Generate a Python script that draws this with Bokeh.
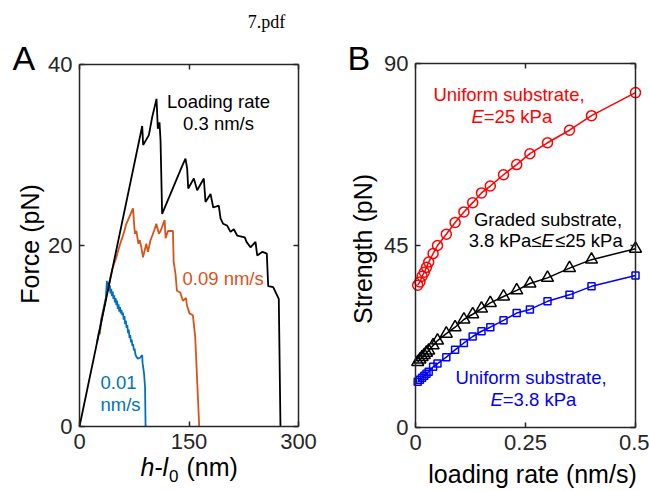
import math
from bokeh.plotting import figure
from bokeh.models import Range1d, LinearAxis, Label, FixedTicker
from bokeh.layouts import row
from bokeh.embed import file_html
from bokeh.resources import INLINE

# ---------------- Panel A data (force vs extension) ----------------
black_x = [0, 85.9, 87.2, 95.0, 99.6, 105.5, 107.3, 109.6, 111.0, 113.2, 140.7, 145.2, 147.5,
           148.9, 156.6, 161.2, 170.3, 172.6, 179.5, 183.2, 190.8, 193.2, 196.8, 202.3, 206.8,
           211.4, 216.0, 226.4, 228.8, 234.2, 241.1, 243.4, 250.7, 256.6, 258.5, 265.3, 273.0, 275.3]
black_y = [0, 33.2, 31.1, 32.2, 34.2, 36.2, 32.9, 33.6, 31.6, 23.5, 28.8, 29.6, 28.5,
           26.3, 27.4, 26.1, 27.4, 24.8, 25.7, 24.2, 24.4, 23.0, 22.4, 22.2, 21.5,
           21.8, 21.1, 20.9, 20.4, 19.8, 20.4, 18.9, 19.3, 19.1, 15.5, 15.4, 14.1, 0]

orange_x = [28.0, 29.5, 35.0, 40.0, 45.0, 50.5, 55.0, 60.0, 64.2, 73.3, 75.8, 78.0, 80.6, 82.5,
            84.7, 87.0, 91.5, 93.8, 97.0, 102.9, 105.2, 108.8, 111.0, 116.6, 118.0, 121.1,
            128.0, 129.0, 131.6, 133.4, 138.0, 141.6, 146.0, 147.1, 150.7, 155.3, 158.5, 164.0]
orange_y = [10.2, 11.8, 13.8, 15.6, 17.4, 18.7, 20.0, 21.2, 22.4, 24.1, 21.3, 21.6, 20.2, 20.6,
            19.8, 18.7, 20.2, 19.3, 20.5, 21.8, 22.4, 21.3, 21.6, 22.8, 20.8, 21.6,
            21.6, 18.2, 16.8, 15.0, 14.8, 13.9, 14.2, 13.4, 12.5, 12.3, 9.9, 0]

blue_x = [24.0, 26.0, 28.0, 30.0, 32.0, 34.0, 36.0, 37.5, 38.5, 39.5, 40.5, 41.5, 42.5, 43.5,
          44.5, 45.5, 46.5, 47.5, 48.5, 49.5, 50.5, 51.5, 52.5, 53.5, 54.5, 55.5, 56.5, 57.5,
          58.5, 59.5, 60.5, 61.5, 62.5, 63.5, 64.5, 65.5, 66.5, 67.5, 68.5, 69.5, 70.5, 71.5,
          72.5, 73.5, 74.5, 75.5, 76.5, 78.0, 80.0, 83.0, 85.9, 86.4, 87.2, 88.5, 89.8, 90.5]
blue_y = [9.3, 10.2, 10.9, 11.7, 12.5, 13.3, 14.1, 16.1, 15.3, 15.9, 15.0, 15.6, 14.7, 15.2,
          14.4, 14.9, 14.1, 14.5, 13.7, 14.2, 13.4, 13.9, 13.0, 13.5, 12.7, 13.2, 12.5, 12.9,
          12.3, 12.6, 11.8, 12.2, 11.3, 11.7, 10.9, 11.2, 10.3, 10.7, 9.8, 10.1, 9.3, 9.6,
          8.9, 9.1, 8.4, 8.6, 8.0, 7.7, 7.5, 7.6, 7.9, 7.0, 6.6, 5.8, 4.3, 0]

a_xticks = [0, 150, 300]
a_yticks = [0, 20, 40]

# ---------------- Panel B data (strength vs loading rate) ----------------
rate = [0.005, 0.01, 0.015, 0.02, 0.025, 0.03, 0.04, 0.05, 0.07, 0.09, 0.11, 0.13, 0.15,
        0.17, 0.2, 0.23, 0.26, 0.3, 0.35, 0.4, 0.5]
uniform_25 = [35.2, 36.0, 37.4, 38.4, 39.6, 40.9, 43.0, 45.0, 47.8, 50.7, 53.3, 55.6, 58.0,
              59.7, 62.5, 65.0, 67.7, 70.4, 73.5, 77.1, 82.8]
graded = [16.2, 16.8, 17.4, 17.9, 18.5, 19.0, 20.3, 21.5, 23.2, 24.8, 26.7, 28.0, 29.4,
          30.8, 32.4, 33.9, 35.6, 37.0, 39.4, 41.5, 44.2]
uniform_38 = [11.3, 11.8, 12.3, 12.8, 13.3, 13.8, 15.0, 15.8, 17.4, 19.2, 20.9, 22.5, 23.8,
              24.8, 26.5, 28.3, 29.2, 31.2, 32.8, 34.9, 37.6]

b_xticks = [0, 0.25, 0.5]
b_xlabels = ["0", "0.25", "0.5"]
b_yticks = [0, 45, 90]

AXC = "#262626"
FONT = "Liberation Sans"
H = 491


def style_axis(ax, ticks, show_labels=True):
    ax.ticker = FixedTicker(ticks=ticks)
    ax.axis_line_color = AXC
    ax.axis_line_width = 1.5
    ax.major_tick_line_color = AXC
    ax.major_tick_line_width = 1.5
    ax.major_tick_in = 5
    ax.major_tick_out = 0
    ax.minor_tick_line_color = None
    ax.major_label_text_font = FONT
    if show_labels:
        ax.major_label_standoff = 7
        ax.major_label_text_font_size = "22px"
        ax.major_label_text_color = AXC
    else:
        ax.major_label_standoff = 0
        ax.major_label_text_font_size = "1px"
        ax.major_label_text_color = None


def make_fig(width, xlim, ylim, box, xticks, yticks):
    # box = (left px, right px, top px, bottom px) of the axes box inside this canvas
    left, right, top, bottom = box
    kx = (xlim[1] - xlim[0]) / (right - left)
    ky = (ylim[1] - ylim[0]) / (bottom - top)
    xr = Range1d(xlim[0] - left * kx, xlim[1] + (width - right) * kx)
    yr = Range1d(ylim[0] - (H - bottom) * ky, ylim[1] + top * ky)
    p = figure(width=width, height=H, x_range=xr, y_range=yr,
               output_backend="svg", toolbar_location=None, title=None,
               x_axis_location=None, y_axis_location=None,
               min_border=0)
    p.grid.visible = False
    p.outline_line_color = None
    p.background_fill_color = "white"
    p.border_fill_color = "white"
    for side, loc, ticks, bounds, show in (("below", ylim[0], xticks, xlim, True),
                                           ("above", ylim[1], xticks, xlim, False),
                                           ("left", xlim[0], yticks, ylim, True),
                                           ("right", xlim[1], yticks, ylim, False)):
        ax = LinearAxis(fixed_location=loc, bounds=bounds)
        style_axis(ax, ticks, show)
        p.add_layout(ax, side)
    return p


def lab(p, x, y, text, size, color="black", align="left", style="normal",
        angle=0.0, font=FONT):
    p.add_layout(Label(x=x, y=y, text=text, text_font=font, text_font_size=f"{size}px",
                       text_color=color, text_align=align, text_baseline="middle",
                       text_font_style=style, angle=angle))


# ---------------- Panel A ----------------
pA = make_fig(330, (0, 300), (0, 40), (79, 298, 64, 426), a_xticks, a_yticks)
pA.line(orange_x, orange_y, line_color="#D95319", line_width=1.8)
pA.line(blue_x, blue_y, line_color="#0072BD", line_width=1.8)
pA.line(black_x, black_y, line_color="black", line_width=1.8)

lab(pA, 190.4, 35.86, "Loading rate", 18.5, align="center")
lab(pA, 190.4, 33.51, "0.3 nm/s", 18.5, align="center")
lab(pA, 141.1, 16.30, "0.09 nm/s", 18.5, color="#D95319")
lab(pA, 28.8, 4.89, "0.01", 18.5, color="#0072BD")
lab(pA, 28.8, 2.38, "nm/s", 18.5, color="#0072BD")

lab(pA, -91.8, 40.69, "A", 34)
lab(pA, 256.2, 44.69, "7.pdf", 18, align="center", font="Liberation Serif")
lab(pA, -67.8, 20.17, "Force (pN)", 25, align="center", angle=math.pi / 2)
# x label: h-l0 (nm)
lab(pA, 83.6, -4.48, "h", 25, style="italic")
lab(pA, 102.7, -4.48, "-", 25)
lab(pA, 113.7, -4.48, "l", 25, style="italic")
lab(pA, 122.6, -5.51, "0", 17)
lab(pA, 146.6, -4.48, "(nm)", 25)

# ---------------- Panel B ----------------
pB = make_fig(319, (0, 0.5), (0, 90), (85, 305, 63, 427), b_xticks, b_yticks)
pB.below[0].major_label_overrides = {t: s for t, s in zip(b_xticks, b_xlabels)}

RED, BLUE = "#FF0000", "#0000FF"
pB.line(rate, uniform_25, line_color=RED, line_width=1.5)
pB.scatter(rate, uniform_25, marker="circle", size=10, fill_color=None, line_color=RED, line_width=1.5)
pB.line(rate, graded, line_color="black", line_width=1.5)
pB.scatter(rate, graded, marker="triangle", size=12, fill_color=None, line_color="black", line_width=1.5)
pB.line(rate, uniform_38, line_color=BLUE, line_width=1.5)
pB.scatter(rate, uniform_38, marker="square", size=7, fill_color=None, line_color=BLUE, line_width=1.5)

lab(pB, 0.2125, 82.35, "Uniform substrate,", 18.5, color=RED, align="center")
lab(pB, 0.1273, 76.86, "E", 18.5, color=RED, style="italic")
lab(pB, 0.1552, 76.86, "=25 kPa", 18.5, color=RED)

lab(pB, 0.3011, 51.49, "Graded substrate,", 18.5, align="center")
lab(pB, 0.2864, 46.20, "3.8 kPa\u2264", 18.5, align="right")
lab(pB, 0.2864, 46.20, "E", 18.5, style="italic")
lab(pB, 0.3170, 46.20, "\u226425 kPa", 18.5)

lab(pB, 0.2625, 12.33, "Uniform substrate,", 18.5, color=BLUE, align="center")
lab(pB, 0.1705, 6.81, "E", 18.5, color=BLUE, style="italic")
lab(pB, 0.1984, 6.81, "=3.8 kPa", 18.5, color=BLUE)

lab(pB, -0.1545, 91.29, "B", 34)
lab(pB, -0.1193, 44.13, "Strength (pN)", 25, align="center", angle=math.pi / 2)
lab(pB, 0.2659, -11.50, "loading rate (nm/s)", 25, align="center")

layout = row(pA, pB)
open("out.html", "w").write(file_html(layout, INLINE))
